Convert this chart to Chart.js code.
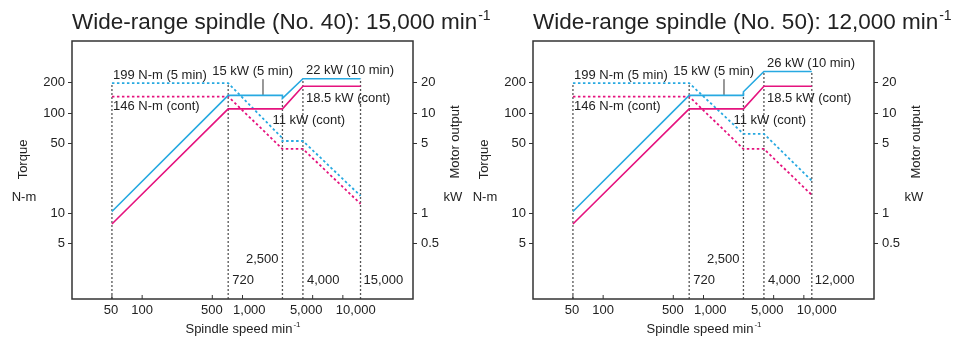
<!DOCTYPE html>
<html>
<head>
<meta charset="utf-8">
<script src="https://cdn.jsdelivr.net/npm/chart.js@4.4.1/dist/chart.umd.min.js"></script>
<style>
  html, body { margin: 0; padding: 0; background: #fff; }
  #wrap { position: relative; width: 954px; height: 338px; overflow: hidden; }
  .panel { position: absolute; top: 0; width: 493px; height: 338px; }
</style>
</head>
<body>
<div id="wrap">
  <div class="panel" style="left:0"><canvas id="no40" width="493" height="338"></canvas></div>
  <div class="panel" style="left:461px"><canvas id="no50" width="493" height="338"></canvas></div>
</div>
<script>
// axis ticks
const xTicks = [50, 100, 500, 1000, 5000, 10000];
const xTickLabels = ['50', '100', '500', '1,000', '5,000', '10,000'];
const torqueTicks = [5, 10, 50, 100, 200];
const powerTicks = [0.5, 1, 5, 10, 20];

// No. 40 spindle (15,000 min-1)
const no40Title = 'Wide-range spindle (No. 40): 15,000 min';
const no40ShortTorqueSpeed = [50, 720, 2500, 2500, 4000, 15000];
const no40ShortTorque = [199, 199, 56, 52.6, 52.6, 14.9];
const no40ShortPowerSpeed = [50, 720, 2500, 2500, 4000, 15000];
const no40ShortPower = [1.04, 15, 15, 14, 22, 22];
const no40ContTorqueSpeed = [50, 720, 2500, 4000, 15000];
const no40ContTorque = [146, 146, 43.8, 43.8, 12.4];
const no40ContPowerSpeed = [50, 720, 2500, 4000, 15000];
const no40ContPower = [0.78, 11, 11, 18.5, 18.5];
const no40GuideSpeed = [50, 720, 2500, 4000, 15000];
const no40GuideTop = [199, 199, 140, 220, 220];
const no40Notes = ['199 N-m (5 min)', '146 N-m (cont)', '15 kW (5 min)', '22 kW (10 min)',
                   '18.5 kW (cont)', '11 kW (cont)', '2,500', '720', '4,000', '15,000'];
const no40NoteSpeed = [50, 50, 720, 4000, 4000, 2500, 2500, 720, 4000, 15000];
const no40NoteValue = [199, 146, 199, 220, 185, 110, 3.48, 2.13, 2.13, 2.13];

// No. 50 spindle (12,000 min-1)
const no50Title = 'Wide-range spindle (No. 50): 12,000 min';
const no50ShortTorqueSpeed = [50, 720, 2500, 4000, 12000];
const no50ShortTorque = [199, 199, 62, 62, 21.1];
const no50ShortPowerSpeed = [50, 720, 2500, 2500, 4000, 12000];
const no50ShortPower = [1.04, 15, 15, 16.3, 26, 26];
const no50ContTorqueSpeed = [50, 720, 2500, 4000, 12000];
const no50ContTorque = [146, 146, 43.8, 43.8, 15.2];
const no50ContPowerSpeed = [50, 720, 2500, 4000, 12000];
const no50ContPower = [0.78, 11, 11, 18.5, 18.5];
const no50GuideSpeed = [50, 720, 2500, 4000, 12000];
const no50GuideTop = [199, 199, 163, 260, 260];
const no50Notes = ['199 N-m (5 min)', '146 N-m (cont)', '15 kW (5 min)', '26 kW (10 min)',
                   '18.5 kW (cont)', '11 kW (cont)', '2,500', '720', '4,000', '12,000'];
const no50NoteSpeed = [50, 50, 720, 4000, 4000, 2500, 2500, 720, 4000, 12000];
const no50NoteValue = [199, 146, 199, 260, 185, 110, 3.48, 2.13, 2.13, 2.13];

// leader line under "15 kW (5 min)"
const leaderSpeed = [1600, 1600];
const leaderTorque = [150, 218];

// note placement (pixels from anchor)
const noteDx = [1, 1, -16, 3, 3, -10, -4, 4, 4, 3];
const noteDy = [-8, 10, -12, -8, 12.5, 12, 0, 0, 0, 0];
const noteAlign = ['left', 'left', 'left', 'left', 'left', 'left', 'right', 'left', 'left', 'left'];
// speed labels are nudged sideways in the original so they don't collide
const xLabelDx = [-1, 0, -0.5, 6.8, -6.5, 12.9];

const FONT = "'Liberation Sans', Arial, Helvetica, sans-serif";
const BLUE = '#27a9e1';
const MAGENTA = '#e5137e';
const GUIDE = '#555';
const INK = '#222';

const speedMin = 20, speedMax = 50000;
const torqueMin = 1.39, torqueMax = 524;
const powerMin = 0.139, powerMax = 52.4;

Chart.defaults.font.family = FONT;
Chart.defaults.color = INK;

function pts(xs, ys) {
  return xs.map((x, i) => ({ x: x, y: ys[i] }));
}

function drawSup(ctx, text, sup, x, y, size, align) {
  ctx.font = size + 'px ' + FONT;
  const w1 = ctx.measureText(text).width;
  ctx.font = Math.round(size * 0.6) + 'px ' + FONT;
  const w2 = ctx.measureText(sup).width;
  let left = x;
  if (align === 'center') left = x - (w1 + w2) / 2;
  ctx.textAlign = 'left';
  ctx.textBaseline = 'alphabetic';
  ctx.font = size + 'px ' + FONT;
  ctx.fillText(text, left, y);
  ctx.font = Math.round(size * 0.6) + 'px ' + FONT;
  ctx.fillText(sup, left + w1 + 1, y - size * 0.42);
}

function makeDecor(p) {
  return {
    id: 'decor',
    afterDatasetsDraw(chart) {
      const { ctx, chartArea: a, scales } = chart;
      ctx.save();
      ctx.strokeStyle = '#333';
      ctx.lineWidth = 1.5;
      ctx.strokeRect(a.left, a.top, a.right - a.left, a.bottom - a.top);
      // inward ticks + labels on the speed axis
      ctx.lineWidth = 1;
      ctx.fillStyle = INK;
      ctx.font = '13px ' + FONT;
      ctx.textBaseline = 'middle';
      ctx.textAlign = 'center';
      xTicks.forEach((v, i) => {
        const px = scales.x.getPixelForValue(v);
        ctx.beginPath();
        ctx.moveTo(px, a.bottom);
        ctx.lineTo(px, a.bottom - 4);
        ctx.stroke();
        ctx.fillText(xTickLabels[i], px + xLabelDx[i], a.bottom + 11);
      });
      // notes
      p.notes.forEach((t, i) => {
        ctx.textAlign = noteAlign[i];
        ctx.fillText(t,
          scales.x.getPixelForValue(p.noteSpeed[i]) + noteDx[i],
          scales.y.getPixelForValue(p.noteValue[i]) + noteDy[i]);
      });
      ctx.restore();
    },
    afterDraw(chart) {
      const { ctx, chartArea: a } = chart;
      ctx.save();
      ctx.fillStyle = INK;
      drawSup(ctx, p.title, '-1', a.left, 29, 22.5, 'left');
      drawSup(ctx, 'Spindle speed min', '-1', (a.left + a.right) / 2, 332.5, 13, 'center');
      ctx.font = '13px ' + FONT;
      ctx.textBaseline = 'middle';
      ctx.textAlign = 'center';
      ctx.fillText('N-m', a.left - 48, 197.5);
      ctx.fillText('kW', a.right + 40, 197.5);
      ctx.save();
      ctx.translate(a.left - 49, 159.5);
      ctx.rotate(-Math.PI / 2);
      ctx.fillText('Torque', 0, 0);
      ctx.restore();
      ctx.save();
      ctx.translate(a.right + 42, 142);
      ctx.rotate(-Math.PI / 2);
      ctx.fillText('Motor output', 0, 0);
      ctx.restore();
      ctx.restore();
    }
  };
}

function buildChart(id, p) {
  const datasets = [];
  p.guideSpeed.forEach((s, i) => {
    datasets.push({
      data: [{ x: s, y: torqueMin }, { x: s, y: p.guideTop[i] }],
      yAxisID: 'y', borderColor: GUIDE, borderWidth: 1.3, borderDash: [2, 2], order: 10
    });
  });
  datasets.push({
    data: pts(leaderSpeed, leaderTorque),
    yAxisID: 'y', borderColor: '#333', borderWidth: 1, order: 9
  });
  datasets.push({
    data: pts(p.contTorqueSpeed, p.contTorque),
    yAxisID: 'y', borderColor: MAGENTA, borderWidth: 1.8, borderDash: [2.5, 2.5], order: 4
  });
  datasets.push({
    data: pts(p.shortTorqueSpeed, p.shortTorque),
    yAxisID: 'y', borderColor: BLUE, borderWidth: 1.8, borderDash: [2.5, 2.5], order: 3
  });
  datasets.push({
    data: pts(p.contPowerSpeed, p.contPower),
    yAxisID: 'y2', borderColor: MAGENTA, borderWidth: 1.6, order: 2
  });
  datasets.push({
    data: pts(p.shortPowerSpeed, p.shortPower),
    yAxisID: 'y2', borderColor: BLUE, borderWidth: 1.6, order: 1
  });
  datasets.forEach(d => { d.pointRadius = 0; d.tension = 0; d.fill = false; });

  new Chart(document.getElementById(id), {
    type: 'line',
    data: { datasets: datasets },
    options: {
      responsive: false,
      animation: false,
      layout: { padding: { top: 41, left: 0, right: 0, bottom: 0 } },
      plugins: { legend: { display: false }, tooltip: { enabled: false }, title: { display: false } },
      scales: {
        x: {
          type: 'logarithmic', min: speedMin, max: speedMax,
          border: { display: false },
          grid: { drawOnChartArea: false, drawTicks: false },
          afterBuildTicks: s => { s.ticks = xTicks.map(v => ({ value: v })); },
          afterFit: s => { s.height = 39; },
          ticks: { display: false }
        },
        y: {
          type: 'logarithmic', position: 'left', min: torqueMin, max: torqueMax,
          border: { display: false },
          grid: { drawOnChartArea: false, drawTicks: true, tickLength: 4, color: '#333' },
          afterBuildTicks: s => { s.ticks = torqueTicks.map(v => ({ value: v })); },
          afterFit: s => { s.width = 72; },
          ticks: { autoSkip: false, padding: 3, color: INK, font: { size: 13 }, callback: v => String(v) }
        },
        y2: {
          type: 'logarithmic', position: 'right', min: powerMin, max: powerMax,
          border: { display: false },
          grid: { drawOnChartArea: false, drawTicks: true, tickLength: 4, color: '#333' },
          afterBuildTicks: s => { s.ticks = powerTicks.map(v => ({ value: v })); },
          afterFit: s => { s.width = 80; },
          ticks: { autoSkip: false, padding: 4, color: INK, font: { size: 13 }, callback: v => String(v) }
        }
      }
    },
    plugins: [makeDecor(p)]
  });
}

buildChart('no40', {
  title: no40Title,
  shortTorqueSpeed: no40ShortTorqueSpeed, shortTorque: no40ShortTorque,
  shortPowerSpeed: no40ShortPowerSpeed, shortPower: no40ShortPower,
  contTorqueSpeed: no40ContTorqueSpeed, contTorque: no40ContTorque,
  contPowerSpeed: no40ContPowerSpeed, contPower: no40ContPower,
  guideSpeed: no40GuideSpeed, guideTop: no40GuideTop,
  notes: no40Notes, noteSpeed: no40NoteSpeed, noteValue: no40NoteValue
});

buildChart('no50', {
  title: no50Title,
  shortTorqueSpeed: no50ShortTorqueSpeed, shortTorque: no50ShortTorque,
  shortPowerSpeed: no50ShortPowerSpeed, shortPower: no50ShortPower,
  contTorqueSpeed: no50ContTorqueSpeed, contTorque: no50ContTorque,
  contPowerSpeed: no50ContPowerSpeed, contPower: no50ContPower,
  guideSpeed: no50GuideSpeed, guideTop: no50GuideTop,
  notes: no50Notes, noteSpeed: no50NoteSpeed, noteValue: no50NoteValue
});
</script>
</body>
</html>
